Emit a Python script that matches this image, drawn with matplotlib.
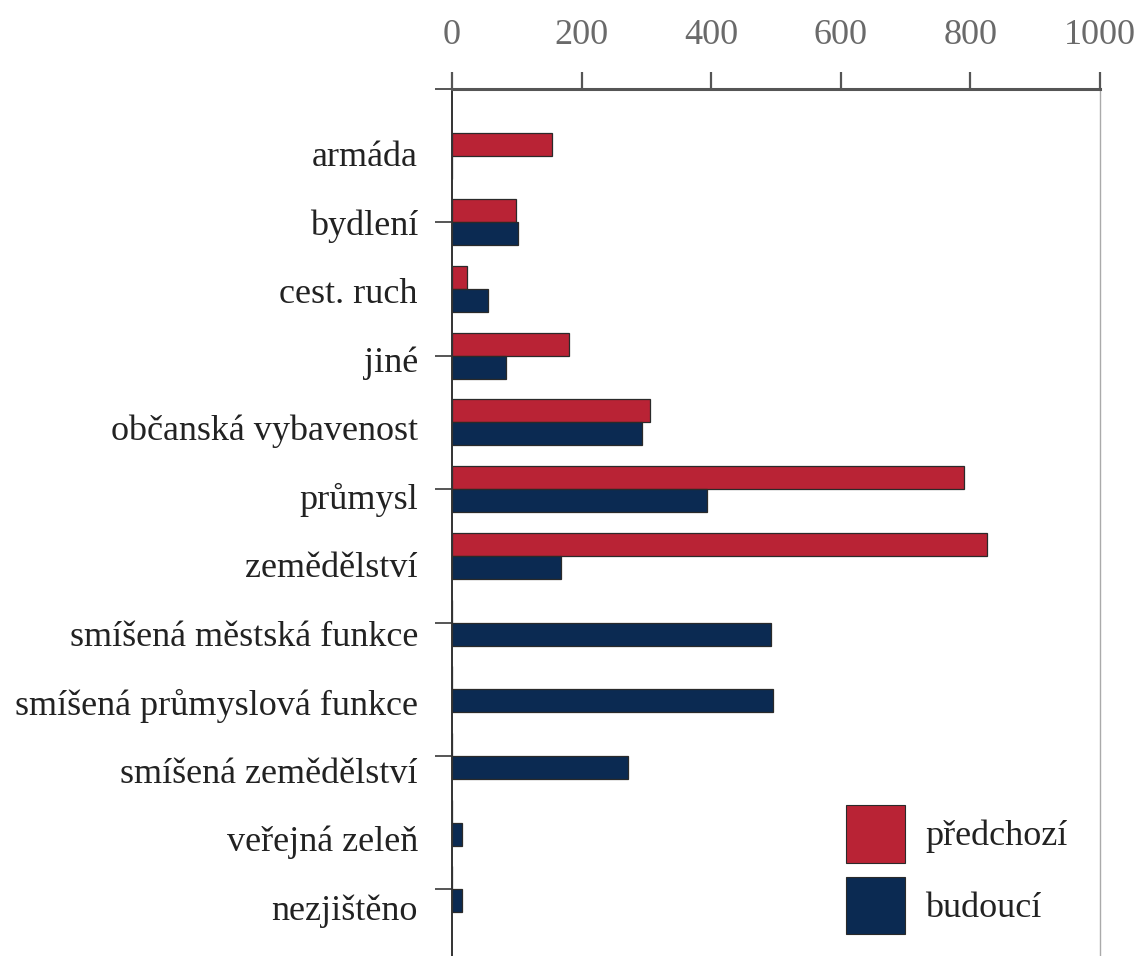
import matplotlib
matplotlib.use("Agg")
import matplotlib.pyplot as plt
from matplotlib.patches import Patch
import numpy as np

categories = ["armáda", "bydlení", "cest. ruch", "jiné", "občanská vybavenost",
              "průmysl", "zemědělství", "smíšená městská funkce",
              "smíšená průmyslová funkce", "smíšená zemědělství",
              "veřejná zeleň", "nezjištěno"]
predchozi = [154, 98, 23, 180, 306, 790, 826, 0, 0, 0, 0, 0]
budouci = [0, 102, 56, 83, 293, 393, 168, 492, 495, 272, 15, 15]
series_labels = ["předchozí", "budoucí"]
xticks = [0, 200, 400, 600, 800, 1000]

RED = "#B92335"
NAVY = "#0B2A52"
EDGE = "#2a2a2a"

plt.rcParams['font.family'] = ['Liberation Serif', 'DejaVu Serif']

W, H = 1138, 956
fig = plt.figure(figsize=(W / 100, H / 100), dpi=100)
ax = fig.add_axes([452 / W, 0.0, (1100 - 452) / W, 1 - 89 / H])

y = np.arange(len(categories))
h = 0.345
ax.barh(y - h / 2, predchozi, height=h, color=RED, edgecolor=EDGE, linewidth=0.9, label=series_labels[0])
ax.barh(y + h / 2, budouci, height=h, color=NAVY, edgecolor=EDGE, linewidth=0.9, label=series_labels[1])

ax.set_xlim(0, 1000)
ax.set_ylim(12, -1)

ax.xaxis.tick_top()
ax.set_xticks(xticks)
ax.set_xticklabels([str(v) for v in xticks], fontsize=26, color="#6a6a6a")
ax.tick_params(axis='x', which='major', direction='out', length=12, width=1.6,
               color="#555555", pad=15)

# category labels: in the original the label column is spaced slightly wider
# than the bar groups, so the labels drift a little below their bars
label_pos = y * 1.0276 - 0.035
ax.set_yticks(label_pos)
ax.set_yticklabels(categories, fontsize=26, color="#222222")
ax.tick_params(axis='y', which='major', length=0, pad=24.5)
ax.set_yticks(np.arange(-1, 12, 2), minor=True)
ax.tick_params(axis='y', which='minor', direction='out', length=12, width=1.4, color="#555555")

ax.spines['bottom'].set_visible(False)
ax.spines['top'].set_color("#555555")
ax.spines['top'].set_linewidth(2.2)
ax.spines['left'].set_color("#333333")
ax.spines['left'].set_linewidth(1.4)
ax.spines['right'].set_color("#aaaaaa")
ax.spines['right'].set_linewidth(1.0)

handles = [Patch(facecolor=RED, edgecolor=EDGE, linewidth=0.8),
           Patch(facecolor=NAVY, edgecolor=EDGE, linewidth=0.8)]
fs_px = 26 * 100 / 72
leg = fig.legend(handles, series_labels, loc='upper left',
                 bbox_to_anchor=(846 / W, 1 - 805 / H), bbox_transform=fig.transFigure,
                 frameon=False, fontsize=26, borderpad=0, borderaxespad=0,
                 handlelength=59 / fs_px, handleheight=1.6 * 58 / 47 * 58 / 55,
                 labelspacing=14 / fs_px, handletextpad=20 / fs_px)
for t in leg.get_texts():
    t.set_color("#222222")

fig.savefig("out.png", dpi=100)
